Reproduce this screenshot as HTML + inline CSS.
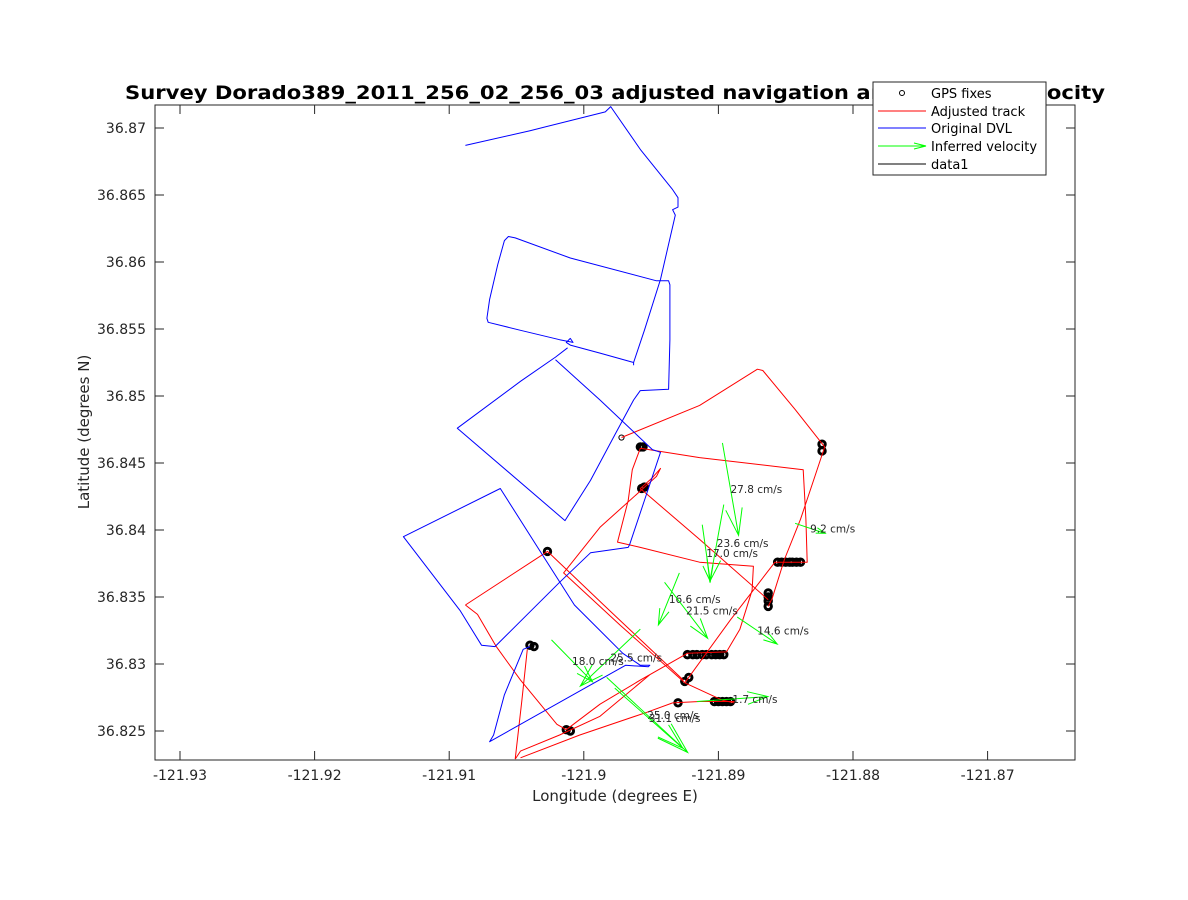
<!DOCTYPE html>
<html><head><meta charset="utf-8"><style>
html,body{margin:0;padding:0;background:#fff;}
svg{display:block;font-family:"DejaVu Sans","Liberation Sans",sans-serif;}
</style></head><body>
<svg id="chart" width="1188" height="900" xmlns="http://www.w3.org/2000/svg">
<rect x="0" y="0" width="1188" height="900" fill="#fff"/>
<defs><clipPath id="clip"><rect x="155" y="105" width="920" height="655"/></clipPath></defs>
<rect x="155" y="105" width="920" height="655" fill="#fff"/>
<g id="ticks"></g>
<g id="plot" clip-path="url(#clip)"></g>
<rect x="155" y="105" width="920" height="655" fill="none" stroke="#262626" stroke-width="1"/>
<text x="615" y="99" text-anchor="middle" font-size="19" font-weight="bold" fill="#000" textLength="980" lengthAdjust="spacingAndGlyphs">Survey Dorado389_2011_256_02_256_03 adjusted navigation and inferred velocity</text>
<text x="615" y="801" text-anchor="middle" font-size="15" fill="#262626">Longitude (degrees E)</text>
<text transform="translate(89,432) rotate(-90)" text-anchor="middle" font-size="15" fill="#262626">Latitude (degrees N)</text>
<g>
<rect x="873" y="82" width="173" height="93" fill="#fff" stroke="#262626" stroke-width="1"/>
<circle cx="902" cy="93" r="2.5" fill="none" stroke="#000" stroke-width="1"/>
<text x="931" y="98" font-size="13" fill="#000">GPS fixes</text>
<line x1="878" y1="111" x2="926" y2="111" stroke="#f00"/>
<text x="931" y="116" font-size="13" fill="#000">Adjusted track</text>
<line x1="878" y1="128" x2="926" y2="128" stroke="#00f"/>
<text x="931" y="133" font-size="13" fill="#000">Original DVL</text>
<line x1="878" y1="146" x2="926" y2="146" stroke="#0f0"/>
<path d="M914,143 L926,146 L914,149 M912,146 L926,146" stroke="#0f0" fill="none"/>
<text x="931" y="151" font-size="13" fill="#000">Inferred velocity</text>
<line x1="878" y1="164" x2="926" y2="164" stroke="#000"/>
<text x="931" y="169" font-size="13" fill="#000">data1</text>
</g>
</svg>
<script>
const xTicks = [-121.93,-121.92,-121.91,-121.9,-121.89,-121.88,-121.87];
const xTickLabels = ["-121.93","-121.92","-121.91","-121.9","-121.89","-121.88","-121.87"];
const yTicks = [36.87,36.865,36.86,36.855,36.85,36.845,36.84,36.835,36.83,36.825];
const yTickLabels = ["36.87","36.865","36.86","36.855","36.85","36.845","36.84","36.835","36.83","36.825"];

// Original DVL track (null = break)
const dvlLon = [-121.9088,-121.9040,-121.8984,-121.8980,-121.8958,-121.8934,-121.8930,-121.8930,-121.8934,-121.8932,-121.8943,-121.8955,-121.8963,-121.8963,null,
-121.8963,-121.8988,-121.9010,-121.9013,-121.9010,-121.9008,-121.9018,-121.9047,-121.9071,-121.9072,-121.9070,-121.9064,-121.9059,-121.9056,-121.9051,-121.9010,-121.8946,-121.8937,-121.8936,-121.8936,-121.8937,-121.8958,-121.8963,-121.8977,-121.8995,-121.9014,-121.9094,-121.9047,-121.9021,-121.9012,null,
-121.9021,-121.8988,-121.8949,-121.8943,-121.8955,-121.8966,-121.8967,-121.8995,-121.9018,-121.9066,-121.9076,-121.9092,-121.9134,-121.9062,-121.9033,-121.9007,-121.8971,-121.8958,-121.8951,-121.8952,-121.8969,-121.9070,-121.9067,-121.9059,-121.9045,-121.9040];
const dvlLat = [36.8687,36.8698,36.8712,36.8716,36.8684,36.8654,36.8648,36.8641,36.8639,36.8635,36.8587,36.8549,36.8525,36.8523,null,
36.8525,36.8532,36.8538,36.8540,36.8543,36.8540,36.8542,36.8549,36.8555,36.8558,36.8572,36.8598,36.8616,36.8619,36.8618,36.8603,36.8586,36.8586,36.8583,36.8542,36.8505,36.8504,36.8497,36.8471,36.8437,36.8407,36.8476,36.8511,36.8529,36.8536,null,
36.8527,36.8497,36.8460,36.8458,36.8422,36.8389,36.8387,36.8383,36.8361,36.8313,36.8314,36.8340,36.8395,36.8431,36.8385,36.8344,36.8308,36.8299,36.8299,36.8298,36.8299,36.8242,36.8247,36.8277,36.8311,36.8313];

// Adjusted track
const adjLon = [-121.8972,-121.8914,-121.8871,-121.8867,-121.8843,-121.8821,-121.8828,-121.8839,-121.8851,-121.8860,-121.8863,null,
-121.8863,-121.8914,-121.8958,-121.8949,-121.8943,-121.8946,-121.8988,-121.9015,-121.8973,-121.8925,-121.8897,-121.8888,null,
-121.9088,-121.9027,-121.8981,-121.8926,null,
-121.8925,-121.8891,-121.8858,-121.8834,-121.8835,-121.8837,-121.8914,-121.8958,-121.8964,-121.8967,-121.8975,-121.8958,-121.8914,-121.8874,-121.8875,-121.8884,-121.8894,-121.8923,-121.8951,-121.8988,-121.9018,-121.9047,-121.9051,null,
-121.9088,-121.9079,-121.9065,-121.9047,-121.9020,-121.9013,-121.8988,-121.8958,-121.8923,null,
-121.9042,-121.9046,-121.9051,null,
-121.9047,-121.9003,-121.8953,-121.8934,-121.8914,-121.8888];
const adjLat = [36.8469,36.8493,36.8520,36.8519,36.8490,36.8462,36.8441,36.8408,36.8378,36.8349,36.8343,null,
36.8348,36.8393,36.8431,36.8439,36.8446,36.8440,36.8402,36.8368,36.8329,36.8286,36.8273,36.8271,null,
36.8344,36.8384,36.8340,36.8288,null,
36.8286,36.8333,36.8376,36.8376,36.8408,36.8445,36.8454,36.8461,36.8445,36.8422,36.8391,36.8387,36.8376,36.8373,36.8355,36.8326,36.8309,36.8308,36.8292,36.8261,36.8247,36.8235,36.8229,null,
36.8344,36.8337,36.8313,36.8288,36.8255,36.8251,36.8270,36.8288,36.8308,null,
36.8311,36.8273,36.8229,null,
36.8230,36.8247,36.8264,36.8271,36.8272,36.8272];

// GPS fixes
const gpsLon = [-121.8958,-121.8956,-121.8957,-121.8955,-121.9027,-121.9040,-121.9037,-121.9013,-121.9010,-121.8925,-121.8922,-121.8923,-121.8919,-121.8916,-121.8912,-121.8909,-121.8905,-121.8902,-121.8899,-121.8896,-121.8903,-121.8900,-121.8897,-121.8894,-121.8891,-121.8930,-121.8863,-121.8863,-121.8863,-121.8863,-121.8856,-121.8853,-121.8850,-121.8847,-121.8845,-121.8842,-121.8839,-121.8823,-121.8823];
const gpsLat = [36.8462,36.8462,36.8431,36.8432,36.8384,36.8314,36.8313,36.8251,36.8250,36.8287,36.8290,36.8307,36.8307,36.8307,36.8307,36.8307,36.8307,36.8307,36.8307,36.8307,36.8272,36.8272,36.8272,36.8272,36.8272,36.8271,36.8353,36.8350,36.8347,36.8343,36.8376,36.8376,36.8376,36.8376,36.8376,36.8376,36.8376,36.8464,36.8459];
const startLon = -121.8972, startLat = 36.8469;

// Inferred velocity arrows
const velLon = [-121.8897,-121.8896,-121.8912,-121.8929,-121.8940,-121.8886,-121.8843,-121.8916,-121.8958,-121.9024,-121.8983,-121.8977];
const velLat = [36.8465,36.8419,36.8404,36.8368,36.8361,36.8335,36.8405,36.8272,36.8326,36.8318,36.8290,36.8282];
const velU = [0.0012,-0.00104,0.0006,-0.00156,0.0032,0.00297,0.00223,0.00528,-0.00446,0.00305,0.00602,0.00505];
const velV = [-0.0069,-0.00574,-0.00425,-0.00388,-0.00418,-0.00201,-0.00075,0.00037,-0.00425,-0.00313,-0.0056,-0.00448];
const velLabels = ["27.8 cm/s","23.6 cm/s","17.0 cm/s","16.6 cm/s","21.5 cm/s","14.6 cm/s","9.2 cm/s","1.7 cm/s","25.5 cm/s","18.0 cm/s","25.0 cm/s","31.1 cm/s"];

const NS = "http://www.w3.org/2000/svg";
const X0 = 180, XS = 13460, Y0 = 128, YS = 13400;
function sx(lon){ return X0 + (lon - (-121.93)) * XS; }
function sy(lat){ return Y0 + (36.87 - lat) * YS; }
const plot = document.getElementById('plot');
const ticks = document.getElementById('ticks');
function mk(tag, attrs, parent){ const e=document.createElementNS(NS,tag); for(const k in attrs) e.setAttribute(k,attrs[k]); parent.appendChild(e); return e; }

xTicks.forEach((v,i)=>{
  const x=sx(v);
  const t1=mk('line',{x1:x,y1:760,x2:x,y2:751,stroke:'#262626'},ticks);
  
  
  const t2=mk('line',{x1:x,y1:105,x2:x,y2:114,stroke:'#262626'},ticks);
  
  
  const lb=mk('text',{x:x,y:780,'text-anchor':'middle','font-size':14,fill:'#262626'},ticks);
  lb.textContent=xTickLabels[i];
  
  
});
yTicks.forEach((v,i)=>{
  const y=sy(v);
  const t1=mk('line',{x1:155,y1:y,x2:164,y2:y,stroke:'#262626'},ticks);
  
  
  const t2=mk('line',{x1:1075,y1:y,x2:1066,y2:y,stroke:'#262626'},ticks);
  
  
  const lb=mk('text',{x:146,y:y+5,'text-anchor':'end','font-size':14,fill:'#262626'},ticks);
  lb.textContent=yTickLabels[i];
  
  
});

function pathFrom(lons,lats){
  let d='', pen=false;
  for(let i=0;i<lons.length;i++){
    if(lons[i]===null){ pen=false; continue; }
    d += (pen?'L':'M') + sx(lons[i]).toFixed(1) + ',' + sy(lats[i]).toFixed(1) + ' ';
    pen=true;
  }
  return d;
}

// GPS markers
gpsLon.forEach((lon,i)=>{
  const c=mk('circle',{cx:sx(lon),cy:sy(gpsLat[i]),r:3.2,fill:'none',stroke:'#000','stroke-width':3},plot);
  
  
});
const st=mk('circle',{cx:sx(startLon),cy:sy(startLat),r:2.6,fill:'none',stroke:'#000','stroke-width':1},plot);



const adj=mk('path',{d:pathFrom(adjLon,adjLat),fill:'none',stroke:'#f00','stroke-width':1,'stroke-linejoin':'round'},plot);



const dvl=mk('path',{d:pathFrom(dvlLon,dvlLat),fill:'none',stroke:'#00f','stroke-width':1,'stroke-linejoin':'round'},plot);



// velocity arrows
velLon.forEach((lon,i)=>{
  const x1=sx(lon), y1=sy(velLat[i]);
  const x2=sx(lon+velU[i]), y2=sy(velLat[i]+velV[i]);
  const dx=x2-x1, dy=y2-y1, L=Math.hypot(dx,dy), a=Math.atan2(dy,dx);
  const h=L*0.3, ang=0.3;
  const d=`M${x1},${y1} L${x2},${y2} M${x2-h*Math.cos(a-ang)},${y2-h*Math.sin(a-ang)} L${x2},${y2} L${x2-h*Math.cos(a+ang)},${y2-h*Math.sin(a+ang)}`;
  const p=mk('path',{d:d,fill:'none',stroke:'#0f0','stroke-width':1},plot);
  
  
  const t=mk('text',{x:(x1+x2)/2,y:(y1+y2)/2+4,'font-size':10.5,fill:'#262626'},plot);
  t.textContent=velLabels[i];
  
  
});
</script>
</body></html>
